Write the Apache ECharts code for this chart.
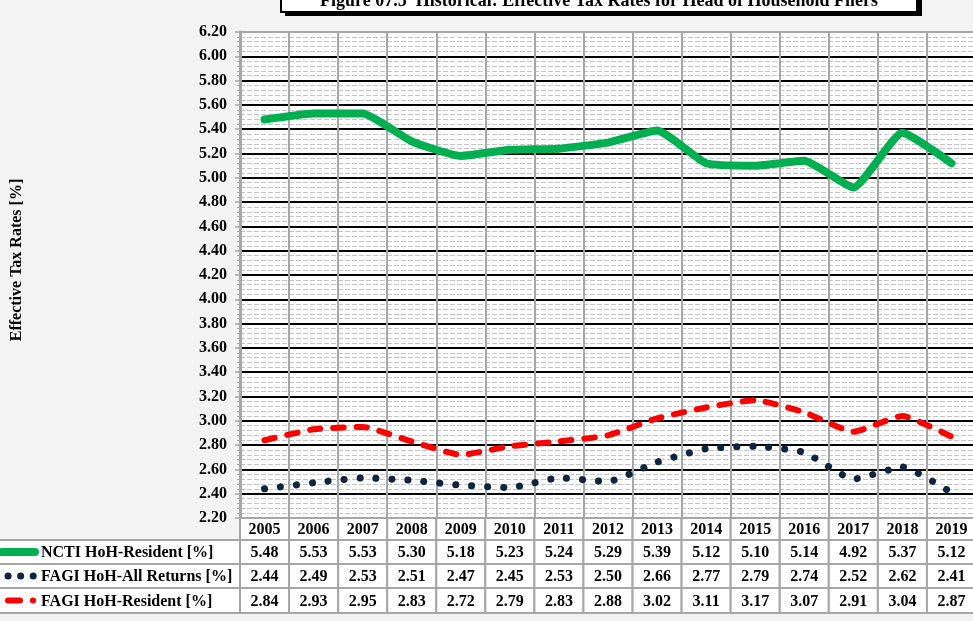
<!DOCTYPE html>
<html>
<head>
<meta charset="utf-8">
<script src="https://cdn.jsdelivr.net/npm/echarts@6/dist/echarts.min.js"></script>
<style>
  html, body { margin: 0; padding: 0; background: #f3f3f3; }
  #chart { width: 973px; height: 621px; }
</style>
</head>
<body>
<div id="chart"></div>
<script>
// Tax years shown along the x axis and in the table header
const years = ['2005', '2006', '2007', '2008', '2009', '2010', '2011', '2012',
               '2013', '2014', '2015', '2016', '2017', '2018', '2019'];

// Effective tax rates [%]
const nctiResident   = [5.48, 5.53, 5.53, 5.30, 5.18, 5.23, 5.24, 5.29, 5.39, 5.12, 5.10, 5.14, 4.92, 5.37, 5.12];
const fagiAllReturns = [2.44, 2.49, 2.53, 2.51, 2.47, 2.45, 2.53, 2.50, 2.66, 2.77, 2.79, 2.74, 2.52, 2.62, 2.41];
const fagiResident   = [2.84, 2.93, 2.95, 2.83, 2.72, 2.79, 2.83, 2.88, 3.02, 3.11, 3.17, 3.07, 2.91, 3.04, 2.87];

const seriesNames = ['NCTI HoH-Resident [%]', 'FAGI HoH-All Returns [%]', 'FAGI HoH-Resident [%]'];

// Value axis range and step
const yMin = 2.2;
const yMax = 6.2;
const yStep = 0.2;

const titleText = 'Figure 07.5  Historical: Effective Tax Rates for Head of Household Filers';
const yAxisTitle = 'Effective Tax Rates [%]';

const FONT = '"Liberation Serif", "Times New Roman", serif';
const GRID_GRAY = '#a6a6a6';

const styles = [
  { color: '#00b050', width: 8, dash: 'solid' },
  { color: '#0f243e', width: 7, dash: [0.1, 15.9] },
  { color: '#ff0000', width: 6, dash: [10.5, 12.8] }
];

const chart = echarts.init(document.getElementById('chart'), null, { renderer: 'canvas' });

chart.setOption({
  animation: false,
  backgroundColor: '#f3f3f3',
  grid: {
    left: 240, top: 32, width: 736, height: 486,
    outerBoundsMode: 'none',
    show: true, backgroundColor: '#ffffff', borderWidth: 0, borderColor: 'transparent'
  },
  xAxis: [
    {
      type: 'category',
      data: years,
      boundaryGap: true,
      z: 3,
      axisLine: { show: true, lineStyle: { color: GRID_GRAY, width: 2 } },
      axisTick: { show: false },
      axisLabel: { show: false },
      splitLine: { show: true, interval: 0, lineStyle: { color: GRID_GRAY, width: 2 } }
    },
    {
      type: 'category',
      data: years,
      position: 'top',
      z: 3,
      axisLine: { show: true, lineStyle: { color: GRID_GRAY, width: 2 } },
      axisTick: { show: false },
      axisLabel: { show: false },
      splitLine: { show: false }
    }
  ],
  yAxis: {
    type: 'value',
    min: yMin,
    max: yMax,
    interval: yStep,
    z: 2,
    axisLine: { show: true, lineStyle: { color: GRID_GRAY, width: 3 } },
    axisTick: { show: true, length: 5, lineStyle: { color: GRID_GRAY, width: 1.5 } },
    minorTick: { show: true, splitNumber: 5, length: 3, lineStyle: { color: GRID_GRAY, width: 1 } },
    axisLabel: {
      margin: 13,
      fontFamily: FONT,
      fontWeight: 'bold',
      fontSize: 16,
      color: '#000',
      formatter: v => v.toFixed(2)
    },
    splitLine: { show: true, lineStyle: { color: '#000', width: 2 } },
    minorSplitLine: { show: true, lineStyle: { color: '#c4c4c4', width: 1, type: [5, 2] } }
  },
  series: [
    { name: seriesNames[0], data: nctiResident },
    { name: seriesNames[1], data: fagiAllReturns },
    { name: seriesNames[2], data: fagiResident }
  ].map((s, i) => ({
    type: 'line',
    name: s.name,
    data: s.data,
    smooth: 0.15,
    symbol: 'none',
    z: 5,
    lineStyle: { color: styles[i].color, width: styles[i].width, type: styles[i].dash, cap: 'round', join: 'round' }
  }))
});

// Data table under the plot, aligned with the category columns
function buildTable() {
  const c0 = chart.convertToPixel({ xAxisIndex: 0 }, years[0]);
  const c1 = chart.convertToPixel({ xAxisIndex: 0 }, years[1]);
  const colW = c1 - c0;
  const plotBottom = chart.convertToPixel({ yAxisIndex: 0 }, yMin);
  const plotLeft = c0 - colW / 2;
  const rowH = [22, 24, 24, 25];
  const rowTop = [plotBottom];
  for (let i = 0; i < rowH.length - 1; i++) rowTop.push(rowTop[i] + rowH[i]);

  const rows = [years, nctiResident.map(v => v.toFixed(2)), fagiAllReturns.map(v => v.toFixed(2)), fagiResident.map(v => v.toFixed(2))];
  const els = [];
  const textStyle = { fontFamily: FONT, fontWeight: 'bold', fontSize: 16, fill: '#000' };

  rows.forEach((row, r) => {
    row.forEach((val, c) => {
      const cx = chart.convertToPixel({ xAxisIndex: 0 }, years[c]);
      els.push({
        type: 'rect', z: 10,
        shape: { x: cx - colW / 2, y: rowTop[r], width: colW, height: rowH[r] },
        style: { fill: '#ffffff', stroke: GRID_GRAY, lineWidth: 2 }
      });
      els.push({
        type: 'text', z: 11,
        x: cx, y: rowTop[r] + rowH[r] / 2 + 1,
        style: Object.assign({ text: val, align: 'center', verticalAlign: 'middle' }, textStyle)
      });
    });
    if (r > 0) {
      const y = rowTop[r];
      const h = rowH[r];
      const mid = y + h / 2;
      els.push({
        type: 'rect', z: 9,
        shape: { x: -2, y: y, width: plotLeft + 2, height: h },
        style: { fill: '#ffffff', stroke: GRID_GRAY, lineWidth: 2 }
      });
      const st = styles[r - 1];
      let key;
      if (r === 1) {
        key = { x1: 2, y1: mid, x2: 35, y2: mid, dash: null };
      } else if (r === 2) {
        key = { x1: 8, y1: mid, x2: 33.2, y2: mid, dash: [0.1, 12.5] };
      } else {
        key = { x1: 8, y1: mid, x2: 33.2, y2: mid, dash: [12, 12.9, 0.2, 50] };
      }
      els.push({
        type: 'line', z: 11,
        shape: { x1: key.x1, y1: key.y1, x2: key.x2, y2: key.y2 },
        style: { stroke: st.color, lineWidth: st.width, lineCap: 'round', lineDash: key.dash }
      });
      els.push({
        type: 'text', z: 11,
        x: 41, y: mid + 1,
        style: Object.assign({ text: seriesNames[r - 1], align: 'left', verticalAlign: 'middle' }, textStyle)
      });
    }
  });

  // Rotated axis title
  els.push({
    type: 'text', z: 11,
    x: 17, y: 260, rotation: Math.PI / 2,
    style: Object.assign({ text: yAxisTitle, align: 'center', verticalAlign: 'middle' }, textStyle, { fontSize: 16 })
  });

  // Title box with drop shadow, clipped by the top edge
  els.push({
    type: 'rect', z: 11,
    shape: { x: 285, y: -20, width: 637, height: 36 },
    style: { fill: '#000000' }
  });
  els.push({
    type: 'rect', z: 12,
    shape: { x: 281, y: -22, width: 636, height: 34 },
    style: { fill: '#ffffff', stroke: '#000000', lineWidth: 2 }
  });
  els.push({
    type: 'text', z: 13,
    x: 599, y: 1.5,
    style: Object.assign({ text: titleText, align: 'center', verticalAlign: 'middle' }, textStyle, { fontSize: 18 })
  });

  chart.setOption({ graphic: { elements: els } });
}

buildTable();
</script>
</body>
</html>
